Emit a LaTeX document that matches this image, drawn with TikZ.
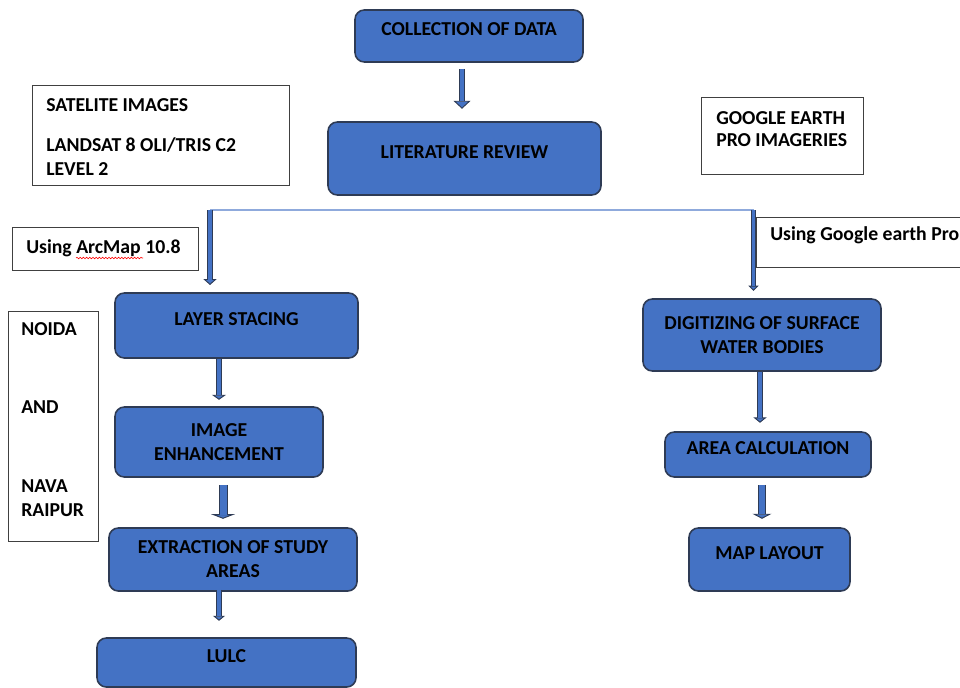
\documentclass[tikz,border=0pt]{standalone}
\usepackage{fontspec}
\setmainfont{Carlito}
\usepackage{xcolor}
\usetikzlibrary{arrows.meta,decorations.pathmorphing}
\definecolor{boxblue}{HTML}{4472C4}
\definecolor{edge}{HTML}{2E3B55}
\definecolor{splitblue}{HTML}{8FAADC}
\tikzset{
  flowbox/.style={draw=edge, fill=boxblue, line width=1.2pt, rounded corners=7pt,
    font=\bfseries\fontsize{14.8pt}{18pt}\selectfont, align=center, inner sep=0pt},
  onerow/.style={text height=9.5pt, text depth=9.5pt},
  plainbox/.style={draw=black!75, line width=0.8pt, inner sep=0pt, anchor=north west},
  plaintext/.style={font=\bfseries\fontsize{14.8pt}{18pt}\selectfont, align=left,
    inner sep=0pt, anchor=north west},
  pipe/.style args={#1/#2/#3}{draw=edge, line width=#1,
    -{Triangle[length=#2, width=#3, line width=0.7pt, color=edge, fill=boxblue]},
    postaction={draw=boxblue, line width=#1-1.5pt, shorten >=#2-0.4pt, arrows=-}},
  splitline/.style={draw=splitblue, line width=1pt},
  spellwave/.style={draw=red, line width=0.45pt, decorate,
    decoration={snake, amplitude=0.55pt, segment length=2.4pt}}
}

\begin{document}
\begin{tikzpicture}[x=0.75pt, y=-0.75pt]
  \useasboundingbox (0,0) rectangle (960,688);

  \node[flowbox, onerow, minimum width=171pt, minimum height=39pt] (collect) at (469,36) {COLLECTION OF DATA};
  \node[flowbox, onerow, minimum width=204.75pt, minimum height=54.75pt] (litrev) at (464.5,158.5) {LITERATURE REVIEW};

  \node[plainbox, minimum width=192.75pt, minimum height=75pt] (satbox) at (32,85) {};
  \node[plaintext] (sattext) at (46,98) {SATELITE IMAGES\\[12pt]LANDSAT 8 OLI/TRIS C2\\LEVEL 2};
  \node[plainbox, minimum width=121.5pt, minimum height=57.75pt] (geebox) at (701,97) {};
  \node[plaintext] (geetext) at (716,111) {GOOGLE EARTH\\[-1.5pt]PRO IMAGERIES};

  \coordinate (splitL) at (210,210);
  \coordinate (splitR) at (753.5,210);
  \draw[splitline] (splitL) -- (splitR);

  \node[plainbox, minimum width=139.5pt, minimum height=32.25pt] (arcbox) at (12,227) {};
  \node[plaintext] (arctext) at (26,239) {Using ArcMap 10.8};
  \draw[spellwave] (76,258) -- (143,258);
  \node[plainbox, minimum width=154.5pt, minimum height=37.5pt] (gepbox) at (756,217) {};
  \node[plaintext] (geptext) at (770,226) {Using Google earth Pro};

  \node[plainbox, minimum width=67.5pt, minimum height=172.5pt] (placebox) at (8,311) {};
  \node[plaintext] (placetext) at (21,322) {NOIDA\\[41pt]AND\\[41pt]NAVA\\RAIPUR};

  \node[flowbox, onerow, minimum width=182.25pt, minimum height=48.75pt] (layer) at (236.5,325.5) {LAYER STACING};
  \node[flowbox, minimum width=156pt, minimum height=52.5pt] (enhance) at (219,442) {IMAGE\\ENHANCEMENT};
  \node[flowbox, minimum width=186pt, minimum height=47.25pt] (extract) at (233,559.5) {EXTRACTION OF STUDY\\AREAS};
  \node[flowbox, onerow, minimum width=194.25pt, minimum height=36.75pt] (lulc) at (226.5,662.5) {LULC};

  \node[flowbox, minimum width=178.5pt, minimum height=54pt] (digit) at (762,335) {DIGITIZING OF SURFACE\\WATER BODIES};
  \node[flowbox, onerow, minimum width=154.5pt, minimum height=33.75pt] (areacalc) at (768,454.5) {AREA CALCULATION};
  \node[flowbox, onerow, minimum width=120.75pt, minimum height=47.25pt] (maplayout) at (769.5,559.5) {MAP LAYOUT};

  \draw[pipe=4.5pt/6pt/12.75pt] (collect.south) ++(-7,6) -- ++(0,40);
  \draw[pipe=4.5pt/4.5pt/10pt] (splitL) -- ++(0,75);
  \draw[pipe=4pt/4pt/7.5pt] (splitR) -- ++(0,81);
  \draw[pipe=4.5pt/3.75pt/10.5pt] (layer.south) ++(-17.5,0) -- ++(0,41);
  \draw[pipe=6.75pt/3.5pt/18pt] (enhance.south) ++(4,7) -- ++(0,34);
  \draw[pipe=4.5pt/3.75pt/9pt] (extract.south) ++(-14,-2) -- ++(0,31);
  \draw[pipe=4.5pt/4pt/9.75pt] (digit.south) ++(-2,0) -- ++(0,51);
  \draw[pipe=6pt/3.75pt/14.25pt] (areacalc.south) ++(-6,7) -- ++(0,34);
\end{tikzpicture}
\end{document}
